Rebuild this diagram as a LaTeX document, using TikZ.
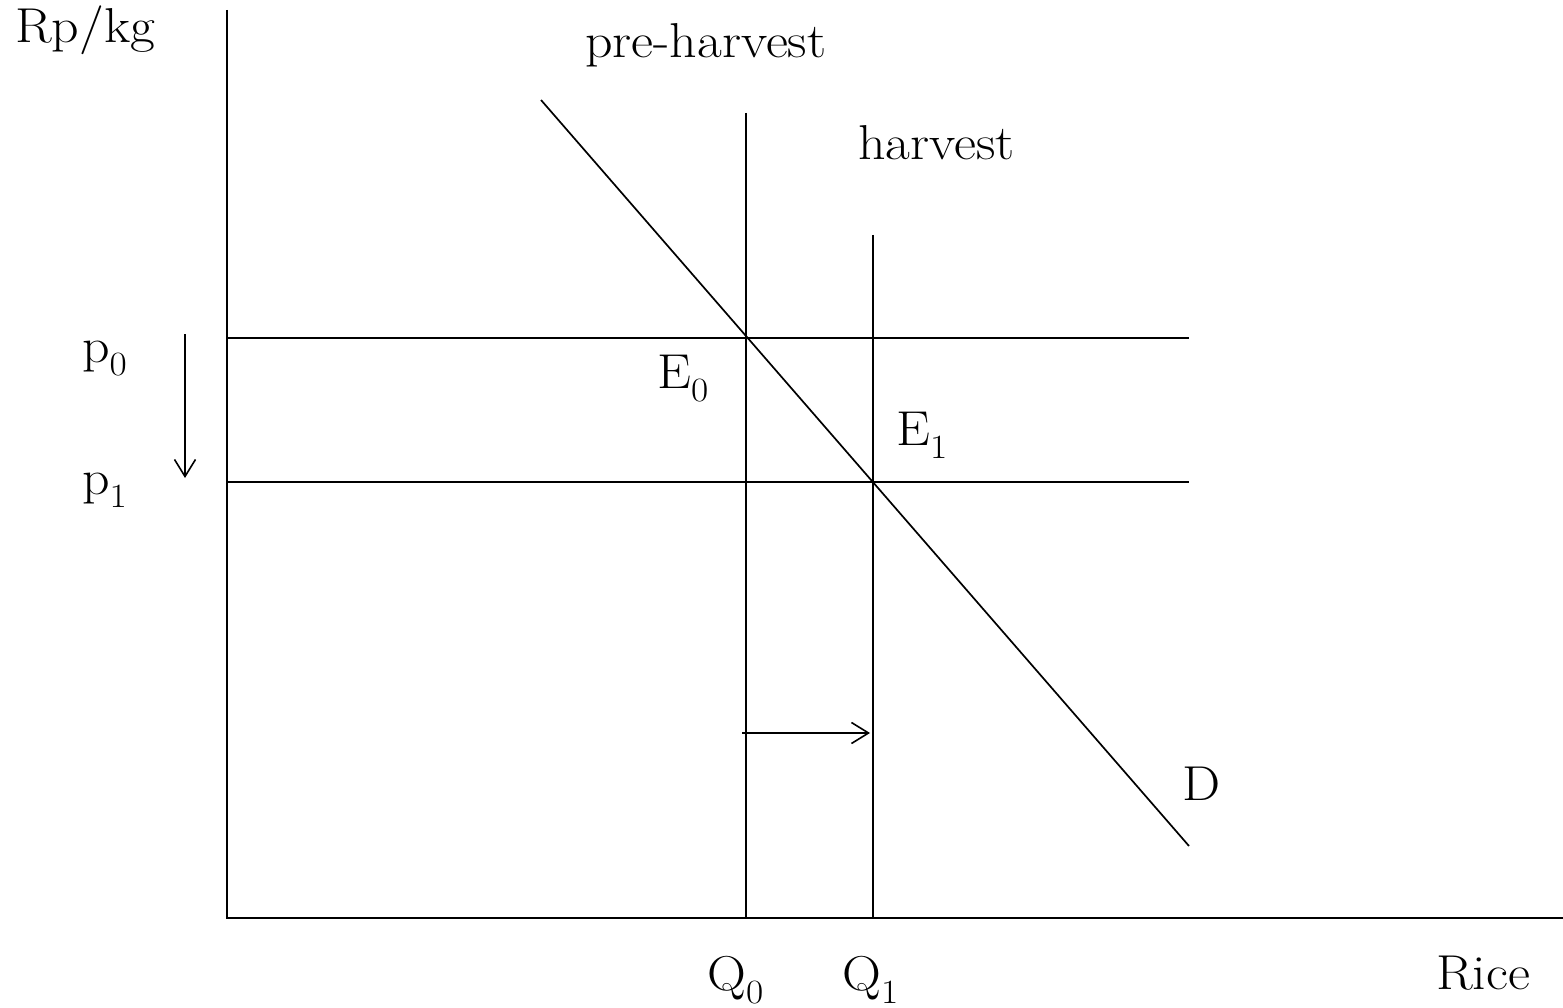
\documentclass[tikz,border=0pt]{standalone}
\usepackage{fontspec}
\setmainfont{Latin Modern Roman}[FakeStretch=1.1]
\usetikzlibrary{arrows.meta}
\newcommand\subidx[1]{\raisebox{-0.28em}{\fontsize{34}{36}\selectfont #1}}
\begin{document}
\begin{tikzpicture}[x=1pt,y=-1pt,
  lbl/.style={anchor=base west,inner sep=0pt,font=\fontsize{49}{54}\selectfont},
  axis/.style={line width=2pt},
  curve/.style={line width=1.7pt},
  shiftarrow/.style={line width=1.6pt,-{Straight Barb[length=17pt,width=21pt,line width=1.6pt]}}]
\useasboundingbox (0,0) rectangle (1563,1008);
% axes
\coordinate (O) at (227,918);
\coordinate (Ytop) at (227,10);
\coordinate (Xend) at (1563,918);
\draw[axis] (Ytop) -- (O) -- (Xend);
% demand
\coordinate (Dtop) at (541,100);
\coordinate (Dbot) at (1189,846);
\draw[curve] (Dtop) -- (Dbot);
% supply verticals
\coordinate (S0top) at (746,113);
\coordinate (S0bot) at (746,918);
\coordinate (S1top) at (873,235);
\coordinate (S1bot) at (873,918);
\draw[curve] (S0top) -- (S0bot);
\draw[curve] (S1top) -- (S1bot);
% price lines
\coordinate (P0l) at (227,338);
\coordinate (P0r) at (1189,338);
\coordinate (P1l) at (227,482);
\coordinate (P1r) at (1189,482);
\draw[curve] (P0l) -- (P0r);
\draw[curve] (P1l) -- (P1r);
% arrows
\coordinate (Adown1) at (185,334);
\coordinate (Adown2) at (185,478);
\draw[shiftarrow] (Adown1) -- (Adown2);
\coordinate (Aright1) at (742,733);
\coordinate (Aright2) at (870,733);
\draw[shiftarrow] (Aright1) -- (Aright2);
% labels
\node[lbl] (rpkg) at (15,43) {Rp/kg};
\node[lbl] (pre) at (585,58) {pre-harvest};
\node[lbl] (harv) at (858,160) {harvest};
\node[lbl] (p0) at (82,362) {p\subidx{0}};
\node[lbl] (p1) at (82,494) {p\subidx{1}};
\node[lbl] (e0) at (657,388) {E\subidx{0}};
\node[lbl] (e1) at (896,445) {E\subidx{1}};
\node[lbl] (d) at (1182,800) {D};
\node[lbl] (q0) at (707,990) {Q\subidx{0}};
\node[lbl] (q1) at (842,990) {Q\subidx{1}};
\node[lbl] (rice) at (1436,989) {Rice};
\end{tikzpicture}
\end{document}
